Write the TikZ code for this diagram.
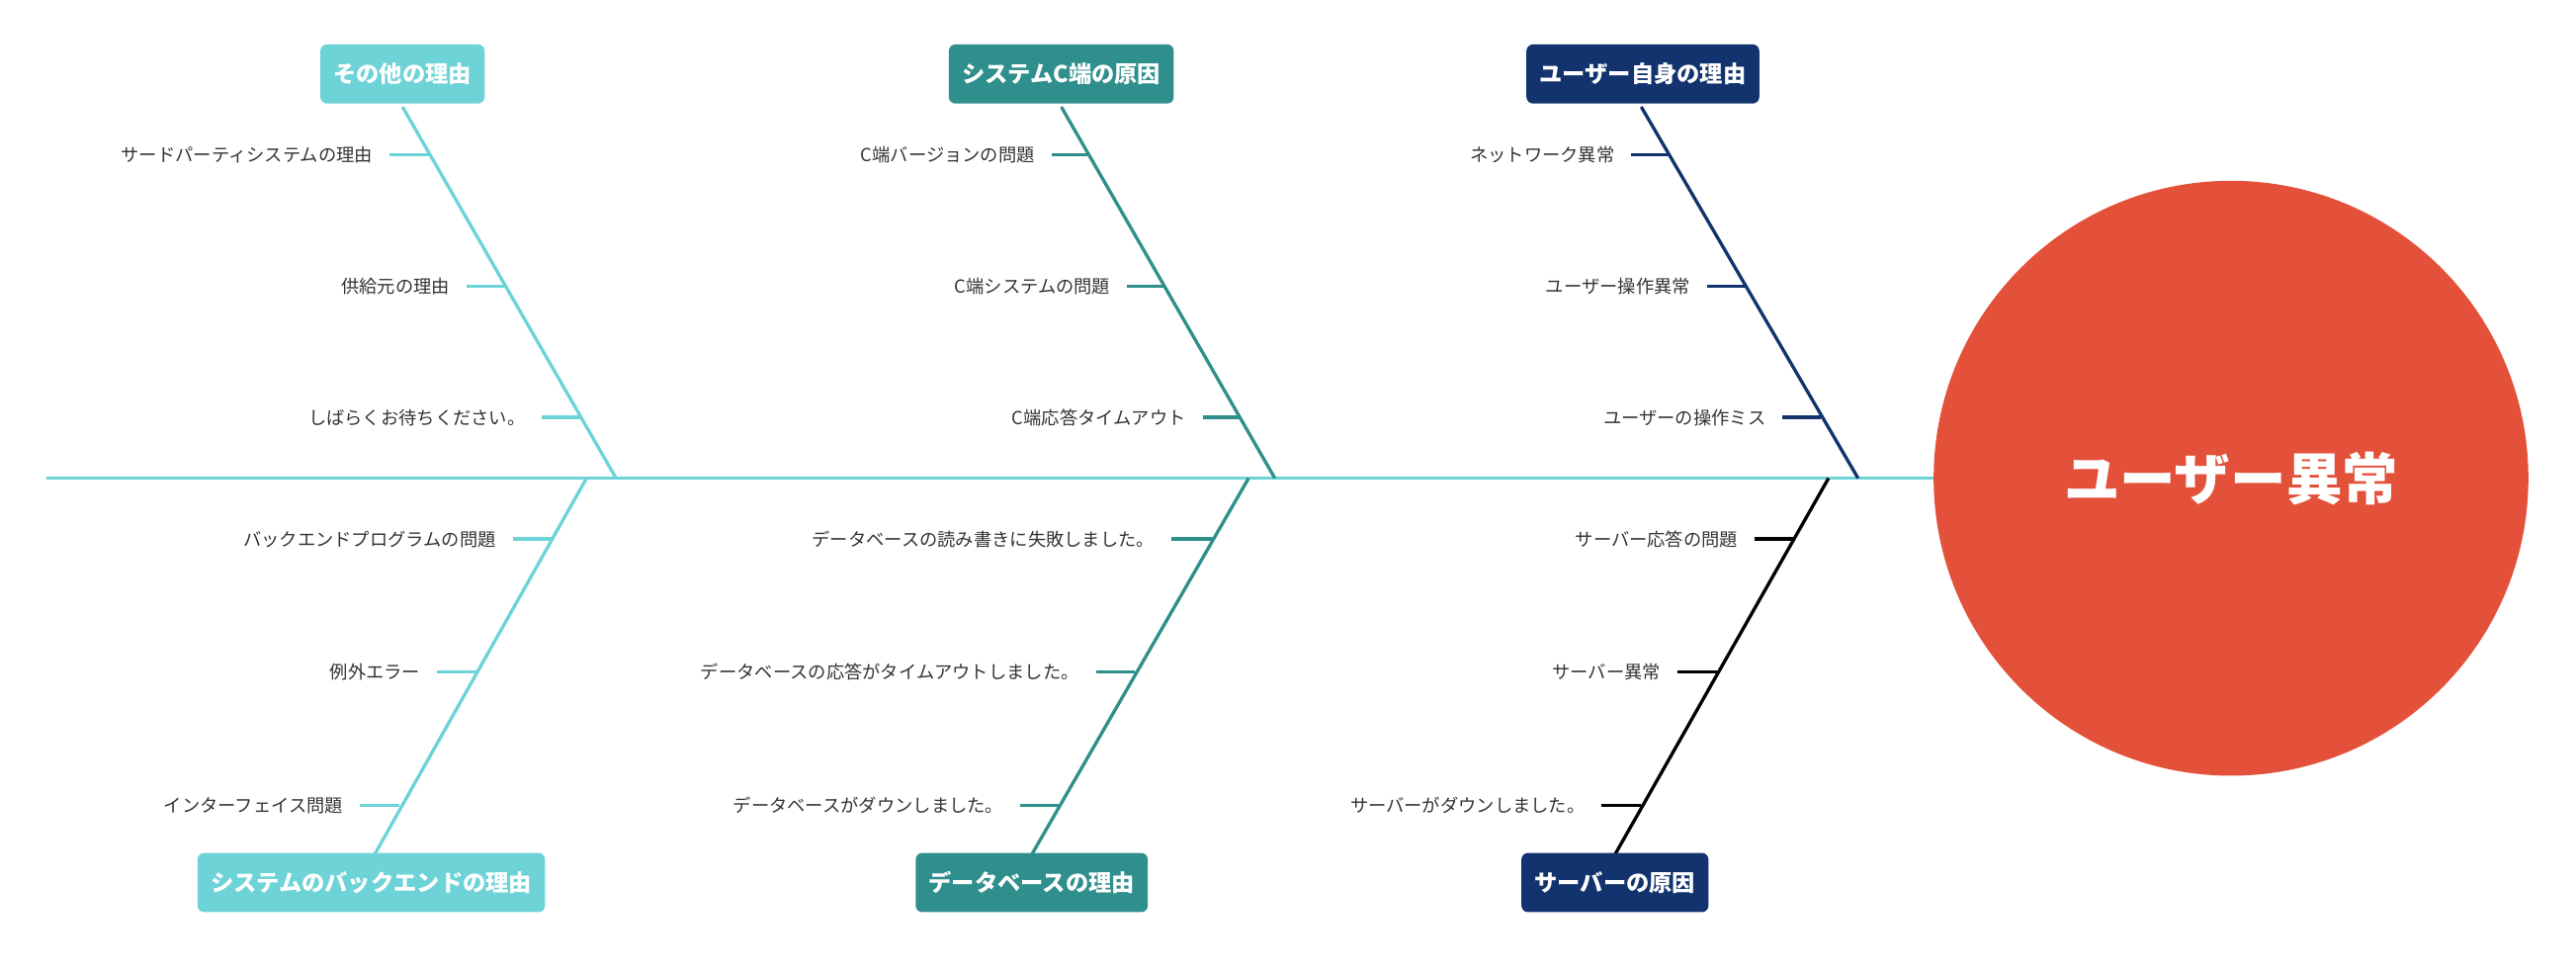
\documentclass[tikz,border=0pt]{standalone}
\usepackage{fontspec}
\newfontfamily\cjk{Noto Sans CJK JP}
\definecolor{cA}{HTML}{6DD3D6}
\definecolor{cB}{HTML}{2F8F8C}
\definecolor{cC}{HTML}{12336E}
\definecolor{cR}{HTML}{E4513A}
\definecolor{txt}{HTML}{333333}
\tikzset{
  head/.style={rounded corners=4pt,text=white,font=\cjk\bfseries\fontsize{14}{16}\selectfont,minimum height=36pt,inner xsep=8pt},
  lab/.style={anchor=east,text=txt,font=\cjk\fontsize{11}{13}\selectfont,inner sep=0pt},
  bone/.style={line width=2pt}
}
\begin{document}
\begin{tikzpicture}[x=1pt,y=-1pt]
\useasboundingbox (0,0) rectangle (1568,592);
% spine
\coordinate (s0) at (28,291);
\node[circle,fill=cR,minimum size=362pt,inner sep=0pt] (head) at (1358,291) {};
\node[text=white,font=\cjk\bfseries\fontsize{34}{38}\selectfont] (headt) at (1358,291) {ユーザー異常};
\draw[cA,bone] (s0) -- (head.west);
% top branches
\newcommand\topbranch[6]{% name color topx botx title labels-handled separately
}
% branch 1
\coordinate (t1a) at (245,65); \coordinate (t1b) at (375,291);
\draw[cA,bone] (t1a) -- (t1b);
\node[head,fill=cA] (h1) at (245,45) {その他の理由};
% branch 2
\coordinate (t2a) at (646,65); \coordinate (t2b) at (776,291);
\draw[cB,bone] (t2a) -- (t2b);
\node[head,fill=cB] (h2) at (646,45) {システムC端の原因};
% branch 3
\coordinate (t3a) at (999,65); \coordinate (t3b) at (1131,291);
\draw[cC,bone] (t3a) -- (t3b);
\node[head,fill=cC] (h3) at (1000,45) {ユーザー自身の理由};
% bottom branches
\coordinate (b1a) at (357,291); \coordinate (b1b) at (228,520);
\draw[cA,bone] (b1a) -- (b1b);
\node[head,fill=cA] (h4) at (226,537) {システムのバックエンドの理由};
\coordinate (b2a) at (760,291); \coordinate (b2b) at (628,520);
\draw[cB,bone] (b2a) -- (b2b);
\node[head,fill=cB] (h5) at (628,537) {データベースの理由};
\coordinate (b3a) at (1113,291); \coordinate (b3b) at (983,520);
\draw[black,bone] (b3a) -- (b3b);
\node[head,fill=cC] (h6) at (983,537) {サーバーの原因};
% sub causes: tick from x1 to x2 at y, label ending at x1-10
\foreach \n/\c/\xa/\xb/\y/\t in {
 l1/cA/237/261/94/サードパーティシステムの理由,
 l2/cA/284/308/174/供給元の理由,
 l3/cA/330/354/254/しばらくお待ちください。,
 l4/cB/640/663/94/C端バージョンの問題,
 l5/cB/686/709/174/C端システムの問題,
 l6/cB/732/755/254/C端応答タイムアウト,
 l7/cC/993/1016/94/ネットワーク異常,
 l8/cC/1039/1062/174/ユーザー操作異常,
 l9/cC/1085/1108/254/ユーザーの操作ミス,
 m1/cA/312/336/328/バックエンドプログラムの問題,
 m2/cA/266/290/409/例外エラー,
 m3/cA/219/243/490/インターフェイス問題,
 m4/cB/713/738/328/データベースの読み書きに失敗しました。,
 m5/cB/667/691/409/データベースの応答がタイムアウトしました。,
 m6/cB/621/645/490/データベースがダウンしました。,
 m7/black/1068/1092/328/サーバー応答の問題,
 m8/black/1021/1045/409/サーバー異常,
 m9/black/975/999/490/サーバーがダウンしました。}{
  \node[lab] (\n) at (\xa-10,\y) {\t};
  \coordinate (\n e) at (\xb,\y);
  \draw[\c,bone] (\xa,\y) -- (\n e);
}
\end{tikzpicture}
\end{document}
